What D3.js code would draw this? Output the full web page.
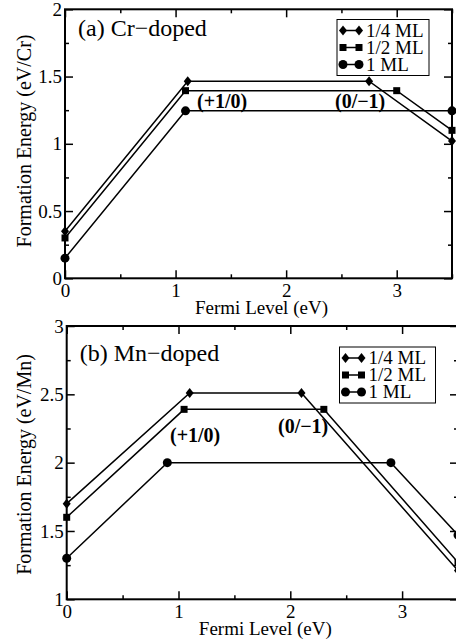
<!DOCTYPE html>
<html lang="en">
<head>
<meta charset="utf-8">
<script src="https://cdn.jsdelivr.net/npm/d3@7"></script>
<style type="text/css">
body { margin: 0; background: #fff; }
svg { display: block; }
</style>
</head>
<body>
<script type="text/javascript">

// series names, shared by both panels
var seriesNames = ["1/4 ML", "1/2 ML", "1 ML"];
var markerKinds = ["diamond", "square", "circle"];

// (a) Cr-doped : Fermi level (eV) vs formation energy (eV/Cr)
var crQuarterX = [0, 1.11, 2.75, 3.5];
var crQuarterY = [0.35, 1.465, 1.465, 1.02];
var crHalfX    = [0, 1.09, 3.0, 3.5];
var crHalfY    = [0.30, 1.395, 1.395, 1.10];
var crOneX     = [0, 1.09, 3.5];
var crOneY     = [0.15, 1.245, 1.245];

// (b) Mn-doped : Fermi level (eV) vs formation energy (eV/Mn)
var mnQuarterX = [0, 1.1, 2.1, 3.5];
var mnQuarterY = [1.70, 2.51, 2.51, 1.21];
var mnHalfX    = [0, 1.05, 2.3, 3.5];
var mnHalfY    = [1.60, 2.39, 2.39, 1.27];
var mnOneX     = [0, 0.9, 2.9, 3.5];
var mnOneY     = [1.30, 2.0, 2.0, 1.47];

// tick values
var xMajor = [0, 1, 2, 3];
var xMinor = [0.5, 1.5, 2.5, 3.5];
var crYMajor = [0, 0.5, 1, 1.5, 2];
var crYMinor = [0.25, 0.75, 1.25, 1.75];
var mnYMajor = [1, 1.5, 2, 2.5, 3];
var mnYMinor = [1.25, 1.75, 2.25, 2.75];

var width = 456;
var height = 642;
var serif = "Liberation Serif";

var svg = d3.select("body")
			.append("svg")
			.attr("width", width)
			.attr("height", height)
			.attr("font-family", serif);

function zip(xs, ys) {
	return xs.map(function(x, i) { return [x, ys[i]]; });
}

// marker paths centred on 0,0
function markerPath(kind) {
	if (kind == "diamond") return "M0,-5L4,0L0,5L-4,0Z";
	if (kind == "square") return "M-3.5,-3.5H3.5V3.5H-3.5Z";
	return d3.arc()({innerRadius: 0, outerRadius: 4.5, startAngle: 0, endAngle: 2 * Math.PI});
}

function addText(sel, x, y, size, str) {
	return sel.append("text")
		.attr("x", x).attr("y", y)
		.attr("font-family", serif)
		.attr("font-size", size)
		.attr("fill", "#000")
		.text(str);
}

function drawPanel(cfg) {
	var x = d3.scaleLinear().domain([0, 3.5]).range([cfg.left, cfg.right]);
	var y = d3.scaleLinear().domain(cfg.yDomain).range([cfg.bottom, cfg.top]);
	var g = svg.append("g");
	var fmt = d3.format("");

	// inward ticks on all four sides
	var axes = [
		d3.axisBottom(x).tickValues(cfg.xMajor).tickSize(-8).tickPadding(5).tickFormat(fmt),
		d3.axisTop(x).tickValues(cfg.xMajor).tickSize(-8).tickFormat(""),
		d3.axisLeft(y).tickValues(cfg.yMajor).tickSize(-8).tickPadding(3).tickFormat(fmt),
		d3.axisRight(y).tickValues(cfg.yMajor).tickSize(-8).tickFormat("")
	];
	var minors = [
		d3.axisBottom(x).tickValues(cfg.xMinor).tickSize(-4).tickFormat(""),
		d3.axisTop(x).tickValues(cfg.xMinor).tickSize(-4).tickFormat(""),
		d3.axisLeft(y).tickValues(cfg.yMinor).tickSize(-4).tickFormat(""),
		d3.axisRight(y).tickValues(cfg.yMinor).tickSize(-4).tickFormat("")
	];
	var pos = ["translate(0," + cfg.bottom + ")", "translate(0," + cfg.top + ")",
			   "translate(" + cfg.left + ",0)", "translate(" + cfg.right + ",0)"];

	axes.concat(minors).forEach(function(ax, i) {
		var a = g.append("g").attr("transform", pos[i % 4]).call(ax);
		a.attr("font-family", serif).attr("font-size", 19);
		a.select(".domain").remove();
		a.selectAll(".tick line").attr("stroke", "#000").attr("stroke-width", 1.5);
		a.selectAll(".tick text")
			.attr("fill", "#000")
			.attr("font-family", serif)
			.attr("font-size", 19);
	});

	// frame
	g.append("rect")
		.attr("x", cfg.left).attr("y", cfg.top)
		.attr("width", cfg.right - cfg.left).attr("height", cfg.bottom - cfg.top)
		.attr("fill", "none").attr("stroke", "#000").attr("stroke-width", 2);

	var line = d3.line().x(function(d) { return x(d[0]); }).y(function(d) { return y(d[1]); });

	cfg.series.forEach(function(s, i) {
		g.append("path")
			.datum(s)
			.attr("d", line)
			.attr("fill", "none")
			.attr("stroke", "#000")
			.attr("stroke-width", 1.5);
		g.selectAll(null)
			.data(s)
			.enter()
			.append("path")
			.attr("transform", function(d) { return "translate(" + x(d[0]) + "," + y(d[1]) + ")"; })
			.attr("d", markerPath(markerKinds[i]))
			.attr("fill", "#000");
	});

	// panel title
	addText(g, cfg.left + 13, cfg.titleY, 24, cfg.title);

	// transition level labels
	cfg.labels.forEach(function(l) {
		addText(g, l.x, l.y, 20, l.text).attr("font-weight", "bold");
	});

	// axis labels
	addText(g, (cfg.left + cfg.right) / 2 + 3, cfg.bottom + 36, 19, "Fermi Level (eV)")
		.attr("text-anchor", "middle");

	addText(g, 0, 0, 20, cfg.yLabel)
		.attr("transform", "translate(31," + cfg.yLabelMid + ") rotate(-90)")
		.attr("text-anchor", "middle");

	// legend
	var lg = g.append("g").attr("transform", "translate(" + cfg.legend[0] + "," + cfg.legend[1] + ")");
	lg.append("rect")
		.attr("width", cfg.legend[2]).attr("height", 56)
		.attr("fill", "#fff").attr("stroke", "#000").attr("stroke-width", 1);
	var rows = lg.selectAll("g")
		.data(seriesNames)
		.enter()
		.append("g")
		.attr("transform", function(d, i) { return "translate(0," + (11 + i * 17) + ")"; });
	rows.append("line")
		.attr("x1", 6).attr("x2", 22)
		.attr("stroke", "#000").attr("stroke-width", 1.5);
	rows.each(function(d, i) {
		var r = d3.select(this);
		[6, 22].forEach(function(px) {
			r.append("path")
				.attr("transform", "translate(" + px + ",0)")
				.attr("d", markerPath(markerKinds[i]))
				.attr("fill", "#000");
		});
		addText(r, 29, 6, 19, d);
	});
}

drawPanel({
	left: 65, right: 452, top: 9.3, bottom: 278.3,
	yDomain: [0, 2], xMajor: xMajor, xMinor: xMinor, yMajor: crYMajor, yMinor: crYMinor,
	series: [zip(crQuarterX, crQuarterY), zip(crHalfX, crHalfY), zip(crOneX, crOneY)],
	title: "(a) Cr\u2212doped", titleY: 36,
	yLabel: "Formation Energy (eV/Cr)", yLabelMid: 141,
	labels: [{x: 197, y: 108, text: "(+1/0)"}, {x: 335, y: 108, text: "(0/\u22121)"}],
	legend: [337, 19.5, 92]
});

drawPanel({
	left: 66.7, right: 458, top: 326, bottom: 599.3,
	yDomain: [1, 3], xMajor: xMajor, xMinor: xMinor, yMajor: mnYMajor, yMinor: mnYMinor,
	series: [zip(mnQuarterX, mnQuarterY), zip(mnHalfX, mnHalfY), zip(mnOneX, mnOneY)],
	title: "(b) Mn\u2212doped", titleY: 361,
	yLabel: "Formation Energy (eV/Mn)", yLabelMid: 464.5,
	labels: [{x: 170, y: 442, text: "(+1/0)"}, {x: 278, y: 433, text: "(0/\u22121)"}],
	legend: [339.5, 347, 96]
});

</script>
</body>
</html>
